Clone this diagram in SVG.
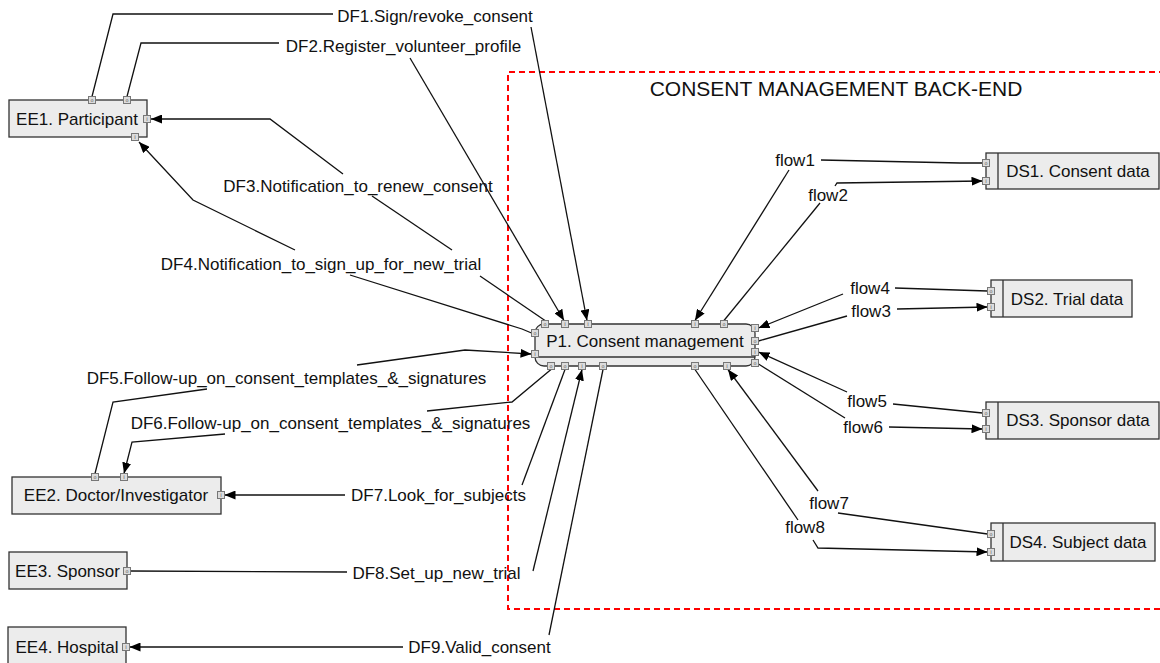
<svg xmlns="http://www.w3.org/2000/svg" width="1160" height="663" viewBox="0 0 1160 663">
  <style>
    .box { fill: #ececec; stroke: #333; stroke-width: 1.3; }
    .lbl { font-family: "Liberation Sans", Arial, sans-serif; font-size: 17px; fill: #111; text-anchor: middle; }
    .name { font-family: "Liberation Sans", Arial, sans-serif; font-size: 17px; fill: #111; text-anchor: middle; }
    .title { font-family: "Liberation Sans", Arial, sans-serif; font-size: 21px; fill: #111; text-anchor: middle; }
    .port { fill: #dcdcdc; stroke: #777; stroke-width: 1; }
    .pt { font-family: "DejaVu Sans", sans-serif; font-size: 5px; fill: #555; text-anchor: middle; }
    .wire { fill: none; stroke: #111; stroke-width: 1.3; }
    .arr { fill: none; stroke: #111; stroke-width: 1.3; marker-end: url(#head); }
  </style>
  <defs>
    <marker id="head" markerUnits="userSpaceOnUse" markerWidth="12" markerHeight="9" refX="11" refY="4.5" orient="auto">
      <path d="M0,0 L11,4.5 L0,9 z" fill="#000"/>
    </marker>
  </defs>

  <rect width="1160" height="663" fill="#fff"/>

  <!-- trust boundary -->
  <g id="boundary">
    <path d="M1165,72 H508 V609 H1165" fill="none" stroke="#f00" stroke-width="2" stroke-dasharray="6,4"/>
    <text class="title" x="836" y="96">CONSENT MANAGEMENT BACK-END</text>
  </g>

  <!-- connectors -->
  <g id="connectors">
    <!-- DF1 -->
    <path class="wire" d="M92,96.5 L113,14 L333,14"/>
    <path class="arr" d="M531,27 L587,320.5"/>
    <text class="lbl" x="435" y="22">DF1.Sign/revoke_consent</text>
    <!-- DF2 -->
    <path class="wire" d="M127,96.5 L141,43 L279,43"/>
    <path class="arr" d="M410,58 L564,320.5"/>
    <text class="lbl" x="403.5" y="52">DF2.Register_volunteer_profile</text>
    <!-- DF3 -->
    <path class="wire" d="M545,320.5 L480,276"/>
    <path class="wire" d="M452,250 L372,196"/>
    <path class="arr" d="M343,174 L270,119 L151,119"/>
    <text class="lbl" x="358" y="192">DF3.Notification_to_renew_consent</text>
    <!-- DF4 -->
    <path class="wire" d="M531.5,333 L522,329 L350,275"/>
    <path class="arr" d="M295,250 L193,200 L139,142"/>
    <text class="lbl" x="321" y="270">DF4.Notification_to_sign_up_for_new_trial</text>
    <!-- DF5 -->
    <path class="wire" d="M95,473.5 L113,402 L207,389"/>
    <path class="arr" d="M357,365 L465,350 L531.5,354"/>
    <text class="lbl" x="286.5" y="384">DF5.Follow-up_on_consent_templates_&amp;_signatures</text>
    <!-- DF6 -->
    <path class="wire" d="M551,369.5 L512,402 L427,411"/>
    <path class="arr" d="M225,434 L132,442 L124,473.5"/>
    <text class="lbl" x="330.5" y="429">DF6.Follow-up_on_consent_templates_&amp;_signatures</text>
    <!-- DF7 -->
    <path class="wire" d="M565,369.5 L522,485"/>
    <path class="arr" d="M345,495 L224.5,495"/>
    <text class="lbl" x="438.5" y="501">DF7.Look_for_subjects</text>
    <!-- DF8 -->
    <path class="wire" d="M130.5,571 L347,572"/>
    <path class="arr" d="M533,571 L582,369.5"/>
    <text class="lbl" x="436.5" y="579">DF8.Set_up_new_trial</text>
    <!-- DF9 -->
    <path class="wire" d="M603,369.5 L549,635"/>
    <path class="arr" d="M403,647 L129.5,647"/>
    <text class="lbl" x="479.5" y="653">DF9.Valid_consent</text>

    <!-- flow1 -->
    <path class="wire" d="M982.5,163 L960,163 L821,160"/>
    <path class="arr" d="M789,170 L695,320.5"/>
    <text class="lbl" x="795" y="166">flow1</text>
    <!-- flow2 -->
    <path class="wire" d="M724,320.5 L820,203"/>
    <path class="arr" d="M835,186 L837,183 L982.5,181"/>
    <text class="lbl" x="828" y="201">flow2</text>
    <!-- flow3 -->
    <path class="wire" d="M758.5,341 L847,316"/>
    <path class="arr" d="M897,309 L987.5,307"/>
    <text class="lbl" x="871" y="317">flow3</text>
    <!-- flow4 -->
    <path class="wire" d="M987.5,291 L895,288"/>
    <path class="arr" d="M843,294 L758.5,328"/>
    <text class="lbl" x="870" y="294">flow4</text>
    <!-- flow5 -->
    <path class="wire" d="M982.5,413 L893,404"/>
    <path class="arr" d="M847,392 L758.5,352"/>
    <text class="lbl" x="867" y="407">flow5</text>
    <!-- flow6 -->
    <path class="wire" d="M758.5,364 L845,418"/>
    <path class="arr" d="M889,427 L982.5,429"/>
    <text class="lbl" x="863" y="433">flow6</text>
    <!-- flow7 -->
    <path class="wire" d="M987.5,534 L838,513"/>
    <path class="arr" d="M818,491 L728,369.5"/>
    <text class="lbl" x="829" y="509">flow7</text>
    <!-- flow8 -->
    <path class="wire" d="M695,369.5 L798,520"/>
    <path class="arr" d="M813,540 L818,548 L987.5,552"/>
    <text class="lbl" x="805" y="533">flow8</text>
  </g>

  <!-- external entities -->
  <g id="EE1">
    <rect class="box" x="9" y="100" width="138" height="37"/>
    <text class="name" x="77" y="125">EE1. Participant</text>
    <rect class="port" x="88.5" y="96.5" width="7" height="7"/><text class="pt" x="92" y="101.8">o</text>
    <rect class="port" x="123.5" y="96.5" width="7" height="7"/><text class="pt" x="127" y="101.8">o</text>
    <rect class="port" x="143.5" y="115.5" width="7" height="7"/><text class="pt" x="147" y="120.8">I</text>
    <rect class="port" x="131.5" y="133.5" width="7" height="7"/><text class="pt" x="135" y="138.8">I</text>
  </g>
  <g id="EE2">
    <rect class="box" x="12" y="477" width="209" height="37"/>
    <text class="name" x="116" y="501">EE2. Doctor/Investigator</text>
    <rect class="port" x="91.5" y="473.5" width="7" height="7"/><text class="pt" x="95" y="478.8">o</text>
    <rect class="port" x="120.5" y="473.5" width="7" height="7"/><text class="pt" x="124" y="478.8">I</text>
    <rect class="port" x="217.5" y="491.5" width="7" height="7"/><text class="pt" x="221" y="496.8">I</text>
  </g>
  <g id="EE3">
    <rect class="box" x="9" y="552" width="118" height="37"/>
    <text class="name" x="67.5" y="577">EE3. Sponsor</text>
    <rect class="port" x="123.5" y="567.5" width="7" height="7"/><text class="pt" x="127" y="572.8">o</text>
  </g>
  <g id="EE4">
    <rect class="box" x="8" y="627" width="118" height="40"/>
    <text class="name" x="67" y="653">EE4. Hospital</text>
    <rect class="port" x="122.5" y="643.5" width="7" height="7"/><text class="pt" x="126" y="648.8">I</text>
  </g>

  <!-- process -->
  <g id="P1">
    <rect class="box" x="535" y="324" width="220" height="42" rx="9"/>
    <line x1="535" y1="357" x2="755" y2="357" stroke="#333" stroke-width="1.3"/>
    <text x="645" y="347" font-family="Liberation Sans, Arial, sans-serif" font-size="17" fill="#111" text-anchor="middle">P1. Consent management</text>
    <rect class="port" x="541.5" y="320.5" width="7" height="7"/><text class="pt" x="545" y="325.8">o</text>
    <rect class="port" x="561.5" y="320.5" width="7" height="7"/><text class="pt" x="565" y="325.8">I</text>
    <rect class="port" x="584.5" y="320.5" width="7" height="7"/><text class="pt" x="588" y="325.8">I</text>
    <rect class="port" x="691.5" y="320.5" width="7" height="7"/><text class="pt" x="695" y="325.8">I</text>
    <rect class="port" x="720.5" y="320.5" width="7" height="7"/><text class="pt" x="724" y="325.8">o</text>
    <rect class="port" x="531.5" y="329.5" width="7" height="7"/><text class="pt" x="535" y="334.8">o</text>
    <rect class="port" x="531.5" y="350.5" width="7" height="7"/><text class="pt" x="535" y="355.8">I</text>
    <rect class="port" x="751.5" y="324.5" width="7" height="7"/><text class="pt" x="755" y="329.8">I</text>
    <rect class="port" x="751.5" y="337.5" width="7" height="7"/><text class="pt" x="755" y="342.8">o</text>
    <rect class="port" x="751.5" y="348.5" width="7" height="7"/><text class="pt" x="755" y="353.8">I</text>
    <rect class="port" x="751.5" y="359.5" width="7" height="7"/><text class="pt" x="755" y="364.8">o</text>
    <rect class="port" x="547.5" y="362.5" width="7" height="7"/><text class="pt" x="551" y="367.8">o</text>
    <rect class="port" x="561.5" y="362.5" width="7" height="7"/><text class="pt" x="565" y="367.8">o</text>
    <rect class="port" x="578.5" y="362.5" width="7" height="7"/><text class="pt" x="582" y="367.8">I</text>
    <rect class="port" x="599.5" y="362.5" width="7" height="7"/><text class="pt" x="603" y="367.8">o</text>
    <rect class="port" x="691.5" y="362.5" width="7" height="7"/><text class="pt" x="695" y="367.8">o</text>
    <rect class="port" x="723.5" y="362.5" width="7" height="7"/><text class="pt" x="727" y="367.8">I</text>
  </g>

  <!-- data stores -->
  <g id="DS1">
    <rect class="box" x="986" y="153" width="173" height="36"/>
    <line x1="998" y1="153" x2="998" y2="189" stroke="#333" stroke-width="1.3"/>
    <text class="name" x="1078" y="177">DS1. Consent data</text>
    <rect class="port" x="982.5" y="159.5" width="7" height="7"/><text class="pt" x="986" y="164.8">o</text>
    <rect class="port" x="982.5" y="177.5" width="7" height="7"/><text class="pt" x="986" y="182.8">I</text>
  </g>
  <g id="DS2">
    <rect class="box" x="991" y="280" width="141" height="37"/>
    <line x1="1003" y1="280" x2="1003" y2="317" stroke="#333" stroke-width="1.3"/>
    <text class="name" x="1067" y="305">DS2. Trial data</text>
    <rect class="port" x="987.5" y="287.5" width="7" height="7"/><text class="pt" x="991" y="292.8">o</text>
    <rect class="port" x="987.5" y="303.5" width="7" height="7"/><text class="pt" x="991" y="308.8">I</text>
  </g>
  <g id="DS3">
    <rect class="box" x="986" y="402" width="173" height="37"/>
    <line x1="998" y1="402" x2="998" y2="439" stroke="#333" stroke-width="1.3"/>
    <text class="name" x="1078" y="426">DS3. Sponsor data</text>
    <rect class="port" x="982.5" y="409.5" width="7" height="7"/><text class="pt" x="986" y="414.8">o</text>
    <rect class="port" x="982.5" y="425.5" width="7" height="7"/><text class="pt" x="986" y="430.8">I</text>
  </g>
  <g id="DS4">
    <rect class="box" x="991" y="523" width="164" height="38"/>
    <line x1="1003" y1="523" x2="1003" y2="561" stroke="#333" stroke-width="1.3"/>
    <text class="name" x="1078" y="548">DS4. Subject data</text>
    <rect class="port" x="987.5" y="530.5" width="7" height="7"/><text class="pt" x="991" y="535.8">o</text>
    <rect class="port" x="987.5" y="548.5" width="7" height="7"/><text class="pt" x="991" y="553.8">I</text>
  </g>
</svg>
